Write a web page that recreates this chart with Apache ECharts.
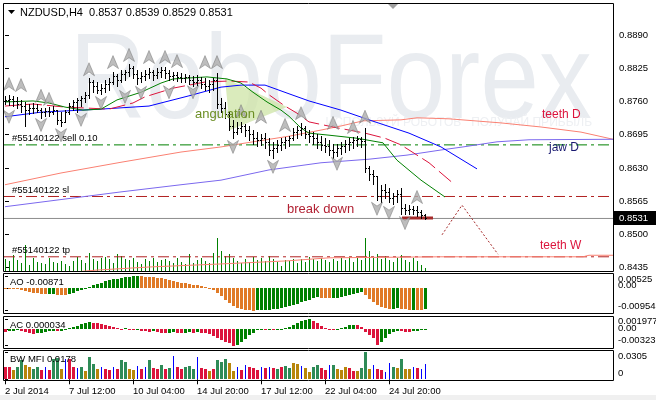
<!DOCTYPE html>
<html><head><meta charset="utf-8">
<script src="https://cdn.jsdelivr.net/npm/echarts@6/dist/echarts.min.js"></script>
<style>html,body{margin:0;padding:0;background:#fff}#c{width:656px;height:400px}</style>
</head><body><div id="c"></div>
<script>
// ---------- DATA ----------
const openP = [0.8760,0.8763,0.8765,0.8761,0.8755,0.8751,0.8743,0.8747,0.8747,0.8743,
0.8739,0.8741,0.8739,0.8743,0.8724,0.8720,0.8739,0.8751,0.8759,0.8763,
0.8767,0.8773,0.8798,0.8790,0.8782,0.8786,0.8794,0.8798,0.8810,0.8802,
0.8814,0.8818,0.8825,0.8814,0.8806,0.8810,0.8814,0.8818,0.8812,0.8818,
0.8822,0.8816,0.8810,0.8812,0.8808,0.8806,0.8808,0.8802,0.8798,0.8802,
0.8794,0.8790,0.8794,0.8802,0.8755,0.8747,0.8735,0.8712,0.8700,0.8708,
0.8712,0.8704,0.8696,0.8688,0.8685,0.8688,0.8681,0.8665,0.8669,0.8675,
0.8681,0.8685,0.8688,0.8700,0.8704,0.8708,0.8696,0.8692,0.8688,0.8681,
0.8675,0.8673,0.8665,0.8661,0.8669,0.8673,0.8677,0.8681,0.8685,0.8687,
0.8683,0.8630,0.8618,0.8614,0.8575,0.8587,0.8583,0.8571,0.8575,0.8579,
0.8551,0.8548,0.8550,0.8548,0.8544,0.8537];
const highP = [0.8771,0.8773,0.8771,0.8769,0.8763,0.8759,0.8755,0.8757,0.8755,0.8747,
0.8747,0.8749,0.8751,0.8743,0.8739,0.8743,0.8757,0.8763,0.8767,0.8771,
0.8778,0.8806,0.8802,0.8798,0.8794,0.8802,0.8806,0.8818,0.8814,0.8822,
0.8822,0.8833,0.8829,0.8822,0.8818,0.8822,0.8825,0.8822,0.8825,0.8827,
0.8827,0.8822,0.8818,0.8818,0.8816,0.8814,0.8812,0.8810,0.8812,0.8808,
0.8806,0.8802,0.8806,0.8816,0.8767,0.8759,0.8739,0.8724,0.8720,0.8720,
0.8716,0.8712,0.8704,0.8700,0.8696,0.8698,0.8688,0.8681,0.8685,0.8688,
0.8690,0.8692,0.8708,0.8712,0.8718,0.8712,0.8704,0.8700,0.8696,0.8692,
0.8688,0.8685,0.8677,0.8677,0.8681,0.8685,0.8688,0.8690,0.8692,0.8690,
0.8708,0.8634,0.8626,0.8614,0.8597,0.8598,0.8591,0.8581,0.8587,0.8591,
0.8559,0.8557,0.8555,0.8555,0.8548,0.8539];
const lowP = [0.8755,0.8753,0.8751,0.8747,0.8739,0.8712,0.8735,0.8737,0.8739,0.8728,
0.8732,0.8732,0.8735,0.8716,0.8712,0.8720,0.8735,0.8743,0.8739,0.8751,
0.8759,0.8767,0.8778,0.8777,0.8775,0.8778,0.8782,0.8794,0.8790,0.8798,
0.8802,0.8810,0.8806,0.8794,0.8798,0.8802,0.8806,0.8802,0.8806,0.8808,
0.8806,0.8802,0.8802,0.8800,0.8798,0.8798,0.8794,0.8790,0.8792,0.8786,
0.8782,0.8778,0.8782,0.8747,0.8739,0.8728,0.8704,0.8688,0.8696,0.8700,
0.8692,0.8685,0.8677,0.8673,0.8675,0.8669,0.8655,0.8649,0.8661,0.8665,
0.8669,0.8673,0.8685,0.8688,0.8694,0.8688,0.8681,0.8677,0.8669,0.8665,
0.8661,0.8655,0.8649,0.8653,0.8657,0.8661,0.8665,0.8669,0.8673,0.8671,
0.8622,0.8606,0.8598,0.8567,0.8563,0.8571,0.8563,0.8559,0.8563,0.8540,
0.8540,0.8540,0.8540,0.8536,0.8532,0.8529];
const closeP = [0.8763,0.8765,0.8761,0.8755,0.8751,0.8743,0.8747,0.8747,0.8743,0.8739,
0.8741,0.8739,0.8743,0.8724,0.8720,0.8739,0.8751,0.8759,0.8763,0.8767,
0.8773,0.8798,0.8790,0.8782,0.8786,0.8794,0.8798,0.8810,0.8802,0.8814,
0.8818,0.8825,0.8814,0.8806,0.8810,0.8814,0.8818,0.8812,0.8818,0.8822,
0.8816,0.8810,0.8812,0.8808,0.8806,0.8808,0.8802,0.8798,0.8802,0.8794,
0.8790,0.8794,0.8802,0.8755,0.8747,0.8735,0.8712,0.8700,0.8708,0.8712,
0.8704,0.8696,0.8688,0.8685,0.8688,0.8681,0.8665,0.8669,0.8675,0.8681,
0.8685,0.8688,0.8700,0.8704,0.8708,0.8696,0.8692,0.8688,0.8681,0.8675,
0.8673,0.8665,0.8661,0.8669,0.8673,0.8677,0.8681,0.8685,0.8687,0.8683,
0.8630,0.8618,0.8614,0.8575,0.8587,0.8583,0.8571,0.8575,0.8579,0.8551,
0.8548,0.8550,0.8548,0.8544,0.8537,0.8531];
const volumes = [1200,1000,1600,1100,800,2600,600,1300,900,800, 700,1300,900,800,1000,700,500,1000,1400,1100,
800,1800,1200,1000,1300,1400,1200,800,1700,1500, 1200,1100,1300,900,700,1200,1000,1300,900,1100,
1200,1000,800,1300,900,700,1700,800,1100,1300, 1000,800,1800,3300,2000,1500,1700,1300,1000,800,
1200,900,1400,1100,1300,1000,1500,1200,900,500, 1100,1000,1200,800,1200,900,1400,1200,1000,1300,
1100,900,1200,1000,1300,1100,1400,900,1300,1100, 3300,2000,1300,1700,1200,1500,1100,900,1300,1600,
1100,900,1300,1000,600,300];
const jawH4 = [[0,0.8730],[9,0.8739],[24,0.8745],[36,0.8751],[46,0.8771],[54,0.8788],[59,0.8792],[65,0.8792],[71,0.8775],[76,0.8761],[84,0.8743],[91,0.8724],[101,0.8698],[109,0.8671],[118,0.8628]];
const teethH4 = [[0,0.8751],[7,0.8755],[15,0.8749],[26,0.8745],[32,0.8757],[35,0.8769],[42,0.8786],[50,0.8798],[56,0.8800],[61,0.8798],[64,0.8786],[66,0.8773],[70,0.8751],[73,0.8737],[76,0.8720],[82,0.8710],[90,0.8698],[95,0.8688],[99,0.8675],[103,0.8655],[106,0.8640],[112,0.8600]];
const lipsH4 = [[0,0.8759],[7,0.8761],[11,0.8757],[15,0.8749],[19.5,0.8743],[24,0.8745],[28,0.8763],[34,0.8778],[39,0.8796],[42,0.8804],[50.5,0.8808],[55.5,0.8804],[59,0.8796],[62,0.8778],[65.5,0.8759],[69,0.8743],[71,0.8731],[74,0.8708],[76,0.8698],[81,0.8694],[88,0.8688],[94.5,0.8679],[98,0.8645],[104,0.8606],[110,0.8573]];
const teethD = [[0,0.8597],[14,0.8620],[29,0.8641],[44,0.8661],[54,0.8671],[62,0.8681],[71,0.8692],[79,0.8704],[84,0.8712],[89.5,0.8722],[99,0.8724],[103,0.8728],[111,0.8726],[124,0.8718],[134,0.8710],[144,0.8700],[152,0.8686]];
const jawD = [[0,0.8554],[14,0.8568],[29,0.8583],[44,0.8597],[54,0.8606],[66,0.8626],[79,0.8640],[91,0.8647],[100.5,0.8655],[109,0.8665],[114.5,0.8671],[123,0.8681],[131,0.8685],[152,0.8686]];
const teethW = [[0,0.8415],[23,0.8430],[36,0.8436],[54,0.8442],[70.5,0.8448],[81,0.8454],[109,0.8456],[144.5,0.8456],[146,0.8459],[152,0.8459]];
const fractalUp = [[1,0.8794],[4,0.8792],[9,0.8771],[11,0.8765],[21,0.8823],[27,0.8837],[31,0.8851],[36,0.8847],[40,0.8847],[43,0.8839],[50,0.8837],[53,0.8837],[59,0.8741],[64,0.8730],[70,0.8714],[74,0.8737],[82,0.8718],[87,0.8710],[90,0.8730],[103,0.8573]];
const fractalDown = [[1,0.8730],[9,0.8714],[14,0.8694],[19,0.8724],[24,0.8757],[30,0.8769],[34,0.8777],[41,0.8778],[47,0.8778],[57,0.8671],[67,0.8632],[83,0.8638],[93,0.8550],[96,0.8542],[100,0.8522]];
const projection = [[109.25,0.8499],[114.25,0.8557],[123.25,0.8461]];
const tradeSegment = [[99.25,0.8532],[107,0.8532]];
const angulation = [[55,0.8806],[70.5,0.8749],[56.25,0.8704]];
const orderLevels = [0.8675, 0.8574, 0.8456];
const orderLabels = ['#55140122 sell 0.10', '#55140122 sl', '#55140122 tp'];
const bidLevel = 0.8531;
const aoValues = [-0.0001,-0.0002,-0.0003,-0.0004,-0.0007,-0.0011,-0.0015,-0.0018,-0.0021,-0.0024,
-0.0025,-0.0024,-0.0023,-0.0027,-0.0028,-0.0029,-0.0024,-0.0018,-0.0013,-0.0007,
-0.0001,0.0005,0.0012,0.0018,0.0023,0.0029,0.0034,0.0038,0.0041,0.0045,
0.0048,0.0050,0.0051,0.00525,0.0051,0.0050,0.0049,0.0048,0.0046,0.0043,
0.0040,0.0036,0.0032,0.0027,0.0024,0.0022,0.0019,0.0016,0.0013,0.0010,
0.0006,0.0002,-0.0007,-0.0018,-0.0032,-0.0048,-0.0062,-0.0074,-0.0083,-0.0090,
-0.0093,-0.0094,-0.00954,-0.0094,-0.0093,-0.0092,-0.0091,-0.0090,-0.0088,-0.0085,
-0.0081,-0.0077,-0.0072,-0.0066,-0.0060,-0.0054,-0.0048,-0.0043,-0.0039,-0.0040,
-0.0042,-0.0043,-0.0041,-0.0040,-0.0037,-0.0033,-0.0029,-0.0024,-0.0019,-0.0017,
-0.0030,-0.0044,-0.0058,-0.0071,-0.0080,-0.0085,-0.0088,-0.0087,-0.0086,-0.0088,
-0.0090,-0.0092,-0.0091,-0.0092,-0.0094,-0.00871];
const acValues = [-0.0005,-0.0004,-0.0003,-0.0002,-0.0004,-0.0006,-0.0008,-0.0009,-0.0008,-0.0007,
-0.0005,-0.0004,-0.0003,-0.0004,-0.0003,-0.0002,0.0002,0.0004,0.0007,0.0010,
0.0012,0.0014,0.0013,0.0012,0.0010,0.0008,0.0006,0.0004,0.0002,0.0001,
0.0002,0.0001,-0.0001,0.0000,-0.0003,-0.0004,-0.0005,-0.0004,-0.0006,-0.0007,
-0.0008,-0.0007,-0.0006,-0.0007,-0.0008,-0.0007,-0.0006,-0.0007,-0.0006,-0.0007,
-0.0008,-0.0009,-0.0013,-0.0018,-0.0022,-0.0025,-0.0028,-0.00323,-0.0031,-0.0025,
-0.0019,-0.0012,-0.0007,-0.0002,-0.0001,-0.0002,-0.0001,-0.0002,-0.0001,0.0001,
0.0003,0.0005,0.0009,0.0013,0.0016,0.0018,0.001977,0.0016,0.0012,0.0006,
0.0002,0.0000,-0.0001,0.0001,0.0003,0.0005,0.0008,0.0009,0.0008,0.0004,
-0.0006,-0.0011,-0.0018,-0.0031,-0.0026,-0.0018,-0.0010,-0.0005,-0.0003,-0.0004,
-0.0005,-0.0006,-0.0004,-0.0003,-0.0002,0.000034];
const mfiValues = [0.0137,0.0137,0.0103,0.0137,0.0217,0.0160,0.0137,0.0114,0.0137,0.0103,
0.0137,0.0103,0.0228,0.0239,0.0114,0.0228,0.0228,0.0137,0.0125,0.0137,
0.0091,0.0251,0.0171,0.0114,0.0137,0.0114,0.0103,0.0137,0.0114,0.0217,
0.0194,0.0114,0.0103,0.0148,0.0114,0.0137,0.0217,0.0125,0.0114,0.0160,
0.0114,0.0125,0.0262,0.0137,0.0114,0.0137,0.0148,0.0114,0.0251,0.0125,
0.0114,0.0091,0.0114,0.0217,0.0194,0.0228,0.0182,0.0091,0.0137,0.0103,
0.0160,0.0137,0.0125,0.0103,0.0137,0.0125,0.0137,0.0125,0.0114,0.0137,
0.0148,0.0125,0.0182,0.0171,0.0148,0.0125,0.0080,0.0137,0.0160,0.0125,
0.0103,0.0160,0.0160,0.0114,0.0103,0.0137,0.0125,0.0091,0.0091,0.0125,
0.0305,0.0114,0.0160,0.0114,0.0103,0.0080,0.0182,0.0137,0.0125,0.0228,
0.0114,0.0114,0.0137,0.0125,0.0114,0.0178];
const mfiKinds = ['r','r','y','g','g','y','y','g','g','r', 'b','r','g','g','y','b','r','r','b','g',
'y','g','g','y','b','r','r','b','r','g', 'g','y','y','b','r','b','g','r','r','g',
'r','g','b','r','r','g','g','g','b','r', 'r','y','r','g','g','g','y','y','b','r',
'b','r','r','r','b','r','b','r','g','r', 'g','g','y','y','b','y','y','g','g','r',
'r','b','g','y','y','y','r','r','y','g', 'g','y','b','r','r','b','b','g','y','g',
'y','y','b','r','b','b'];
const priceTicks = [0.8890,0.8825,0.8760,0.8695,0.8630,0.8565,0.8500,0.8435];
const aoTicks = [0.00525,0,-0.00954], aoTickText = ['0.00525','0.00','-0.00954'];
const acTicks = [0.001977,0,-0.00323], acTickText = ['0.001977','0.00','-0.00323'];
const mfiTicks = [0.0305,0], mfiTickText = ['0.0305','0'];
const timeTickIdx = [0,16,32,48,64,80,96];
const timeTickLabels = ['2 Jul 2014','7 Jul 12:00','10 Jul 04:00','14 Jul 20:00','17 Jul 12:00','22 Jul 04:00','24 Jul 20:00'];

// ---------- STYLE / LAYOUT ----------
const FONT = '"Liberation Sans", Arial, sans-serif';
const GREEN = '#008000', ORANGE = '#e07a26', RED = '#dc143c';
const mfiColorMap = {g:'#2e8b57', r:'#dc143c', y:'#b8860b', b:'#0000ff'};
const XMIN = -0.25, XMAX = 152;
const grids = [
  {left:4, right:43, top:4, height:267},
  {left:4, right:43, top:273, height:40},
  {left:4, right:43, top:316, height:32},
  {left:4, right:43, top:350, height:30}
];
const idx = n => Array.from({length:n}, (_, i) => i);

function histRender(values, colorFn, widthFn) {
  return function (params, api) {
    const i = api.value(0), v = api.value(1);
    const p = api.coord([i, v]), z = api.coord([i, 0]);
    const px = Math.round(p[0]);
    const w = widthFn(params.dataIndex);
    let y1 = Math.round(Math.min(p[1], z[1])), y2 = Math.round(Math.max(p[1], z[1]));
    if (y2 - y1 < 1) y2 = y1 + 1;
    return {type:'rect', shape:{x: w > 1 ? px - 1 : px, y:y1, width:w, height:y2 - y1},
      style:{fill: colorFn(params.dataIndex)}};
  };
}
function hLine(name, level, color, type, z) {
  return {type:'line', name, xAxisIndex:0, yAxisIndex:0, data:[[XMIN, level],[XMAX, level]],
    showSymbol:false, symbol:'none', silent:true, z, lineStyle:{color, width:1, type}};
}
const DASHDOT = [11,4,3,4];

const chart = echarts.init(document.getElementById('c'), null, {renderer:'canvas'});
const N = openP.length;

const baseGraphic = [
  {id:'wm', type:'text', x:62, y:85, z:-10, scaleX:0.88, originX:62, originY:85, silent:true,
    style:{text:'RoboForex', font:'120px ' + FONT, fill:'#e9ecf0', verticalAlign:'middle', align:'left'}},
  {id:'wm2', type:'text', x:592, y:123, z:-10, silent:true,
    style:{text:'ИСПОЛЬЗУЙ РОБОТОВ   ПОЛУЧАЙ ПРИБЫЛЬ', font:'12px ' + FONT, fill:'#eef0f3', verticalAlign:'middle', align:'right'}},
  {id:'bot', type:'rect', shape:{x:0, y:395, width:656, height:5}, style:{fill:'#f0f0f0'}, z:20, silent:true},
  {id:'f0', type:'rect', shape:{x:3.5, y:3.5, width:610, height:268}, style:{fill:null, stroke:'#000', lineWidth:1}, z:20, silent:true},
  {id:'f1', type:'rect', shape:{x:3.5, y:273.5, width:610, height:40}, style:{fill:null, stroke:'#000', lineWidth:1}, z:20, silent:true},
  {id:'f2', type:'rect', shape:{x:3.5, y:316.5, width:610, height:32}, style:{fill:null, stroke:'#000', lineWidth:1}, z:20, silent:true},
  {id:'f3', type:'rect', shape:{x:3.5, y:350.5, width:610, height:30}, style:{fill:null, stroke:'#000', lineWidth:1}, z:20, silent:true},
  {id:'tri', type:'polygon', shape:{points:[[8,10],[15,10],[11.5,14]]}, style:{fill:'#000'}, z:21, silent:true},
  {id:'shift', type:'polygon', shape:{points:[[388,4],[398,4],[393,9]]}, style:{fill:'#a0a0a0'}, z:21, silent:true},
  {id:'hdr', type:'text', x:20, y:13, z:21, style:{text:'NZDUSD,H4  0.8537 0.8539 0.8529 0.8531', font:'11px ' + FONT, fill:'#000', verticalAlign:'middle'}},
  {id:'t1', type:'text', x:195, y:114, z:21, style:{text:'angulation', font:'13px ' + FONT, fill:'#6b8e23', verticalAlign:'middle'}},
  {id:'t2', type:'text', x:542, y:115, z:21, style:{text:'teeth D', font:'12px ' + FONT, fill:RED, verticalAlign:'middle'}},
  {id:'t3', type:'text', x:549, y:148, z:21, style:{text:'jaw D', font:'12px ' + FONT, fill:'#191970', verticalAlign:'middle'}},
  {id:'t4', type:'text', x:287, y:209, z:21, style:{text:'break down', font:'13px ' + FONT, fill:'#b22234', verticalAlign:'middle'}},
  {id:'t5', type:'text', x:540, y:246, z:21, style:{text:'teeth W', font:'12px ' + FONT, fill:RED, verticalAlign:'middle'}},
  {id:'t6', type:'text', x:10, y:282, z:21, style:{text:'AO -0.00871', font:'9.5px ' + FONT, fill:'#000', verticalAlign:'middle'}},
  {id:'t7', type:'text', x:10, y:325, z:21, style:{text:'AC 0.000034', font:'9.5px ' + FONT, fill:'#000', verticalAlign:'middle'}},
  {id:'t8', type:'text', x:10, y:359, z:21, style:{text:'BW MFI 0.0178', font:'9.5px ' + FONT, fill:'#000', verticalAlign:'middle'}}
];

const option = {
  animation:false,
  textStyle:{fontFamily:FONT},
  grid: grids,
  xAxis: grids.map((g, k) => ({
    type:'value', gridIndex:k, min:XMIN, max:XMAX, show: k === 3,
    axisLine:{show:false}, splitLine:{show:false},
    axisTick:{show:k===3, length:5, lineStyle:{color:'#000'}, customValues: timeTickIdx},
    axisLabel:{show:k===3, customValues: timeTickIdx, align:'left', margin:6, fontSize:9.5, color:'#000',
      formatter: v => timeTickLabels[timeTickIdx.indexOf(Math.round(v))] || ''}
  })),
  yAxis: [
    {type:'value', gridIndex:0, position:'right', min:0.84282, max:0.89507,
      axisLine:{show:false}, splitLine:{show:false},
      axisTick:{show:true, length:4, lineStyle:{color:'#000'}, customValues:priceTicks},
      axisLabel:{customValues:priceTicks, fontSize:9.5, color:'#000', margin:6, formatter: v => v.toFixed(4)}},
    {type:'value', gridIndex:0, min:0, max:26700, show:false},
    {type:'value', gridIndex:1, position:'right', min:-0.01052, max:0.00652,
      axisLine:{show:false}, splitLine:{show:false}, axisLabel:{show:false},
      axisTick:{show:true, length:3, lineStyle:{color:'#000'}, customValues:aoTicks}},
    {type:'value', gridIndex:2, position:'right', min:-0.0037, max:0.00263,
      axisLine:{show:false}, splitLine:{show:false}, axisLabel:{show:false},
      axisTick:{show:true, length:3, lineStyle:{color:'#000'}, customValues:acTicks}},
    {type:'value', gridIndex:3, position:'right', min:-0.0008, max:0.0333,
      axisLine:{show:false}, splitLine:{show:false}, axisLabel:{show:false},
      axisTick:{show:true, length:3, lineStyle:{color:'#000'}, customValues:mfiTicks}}
  ],
  graphic: baseGraphic,
  series: [
    {type:'custom', name:'angulation', coordinateSystem:'cartesian2d', xAxisIndex:0, yAxisIndex:0, z:1, silent:true,
      data:[angulation[0]],
      renderItem:(params, api) => ({type:'polygon', shape:{points: angulation.map(p => api.coord(p))},
        style:{fill:'rgba(205,228,165,0.75)'}})},
    {type:'custom', name:'volume', coordinateSystem:'cartesian2d', xAxisIndex:0, yAxisIndex:1, z:2, silent:true,
      data: idx(N).map(i => [i, volumes[i]]),
      renderItem: histRender(volumes, () => GREEN, () => 1)},
    hLine('sell', orderLevels[0], GREEN, DASHDOT, 3),
    hLine('sl', orderLevels[1], '#b22222', DASHDOT, 3),
    hLine('tp', orderLevels[2], '#b22222', DASHDOT, 3),
    hLine('bid', bidLevel, '#8c8c8c', 'solid', 3),
    {type:'line', name:'teeth D', xAxisIndex:0, yAxisIndex:0, data:teethD, showSymbol:false, symbol:'none', silent:true, z:3,
      lineStyle:{color:'#fa8072', width:1}},
    {type:'line', name:'jaw D', xAxisIndex:0, yAxisIndex:0, data:jawD, showSymbol:false, symbol:'none', silent:true, z:3,
      lineStyle:{color:'#7b68ee', width:1}},
    {type:'line', name:'teeth W', xAxisIndex:0, yAxisIndex:0, data:teethW, showSymbol:false, symbol:'none', silent:true, z:3,
      lineStyle:{color:'#fa8072', width:1}},
    {type:'line', name:'jaw', xAxisIndex:0, yAxisIndex:0, data:jawH4, showSymbol:false, symbol:'none', silent:true, z:4,
      lineStyle:{color:'#0000ff', width:1}},
    {type:'line', name:'teeth', xAxisIndex:0, yAxisIndex:0, data:teethH4, showSymbol:false, symbol:'none', silent:true, z:4,
      lineStyle:{color:RED, width:1, type:[16,5]}},
    {type:'line', name:'lips', xAxisIndex:0, yAxisIndex:0, data:lipsH4, showSymbol:false, symbol:'none', silent:true, z:4,
      lineStyle:{color:GREEN, width:1}},
    {type:'custom', name:'NZDUSD', coordinateSystem:'cartesian2d', xAxisIndex:0, yAxisIndex:0, z:6, silent:true,
      data: idx(N).map(i => [i, openP[i], highP[i], lowP[i], closeP[i]]),
      renderItem:(params, api) => {
        const i = api.value(0);
        const o = api.coord([i, api.value(1)]), h = api.coord([i, api.value(2)]);
        const l = api.coord([i, api.value(3)]), c = api.coord([i, api.value(4)]);
        const px = Math.round(o[0]);
        const hy = Math.round(h[1]), ly = Math.round(l[1]);
        return {type:'group', children:[
          {type:'rect', shape:{x:px, y:hy, width:1, height:Math.max(1, ly - hy + 1)}, style:{fill:'#000'}},
          {type:'rect', shape:{x:px - 1, y:Math.round(o[1]), width:1, height:1}, style:{fill:'#000'}},
          {type:'rect', shape:{x:px + 1, y:Math.round(c[1]), width:1, height:1}, style:{fill:'#000'}}
        ]};
      }},
    {type:'scatter', name:'fractal up', xAxisIndex:0, yAxisIndex:0, data:fractalUp, z:7, silent:true,
      symbol:'path://M5,0 L10,12 L5,8.5 L0,12 Z', symbolSize:[11,13],
      itemStyle:{color:'#adadad', borderColor:'#6f6f6f', borderWidth:0.6}},
    {type:'scatter', name:'fractal down', xAxisIndex:0, yAxisIndex:0, data:fractalDown, z:7, silent:true,
      symbol:'path://M0,0 L5,3.5 L10,0 L5,12 Z', symbolSize:[11,13],
      itemStyle:{color:'#adadad', borderColor:'#6f6f6f', borderWidth:0.6}},
    {type:'line', name:'projection', xAxisIndex:0, yAxisIndex:0, data:projection, showSymbol:false, symbol:'none', silent:true, z:5,
      lineStyle:{color:'#a52a2a', width:1, type:[2,2]}},
    {type:'line', name:'trade', xAxisIndex:0, yAxisIndex:0, data:tradeSegment, showSymbol:false, symbol:'none', silent:true, z:5,
      lineStyle:{color:'#a52a2a', width:3}},
    {type:'custom', name:'AO', coordinateSystem:'cartesian2d', xAxisIndex:1, yAxisIndex:2, silent:true,
      data: idx(N).map(i => [i, aoValues[i]]),
      renderItem: histRender(aoValues, k => (k > 0 && aoValues[k] > aoValues[k-1]) ? GREEN : ORANGE, () => 3)},
    {type:'custom', name:'AC', coordinateSystem:'cartesian2d', xAxisIndex:2, yAxisIndex:3, silent:true,
      data: idx(N).map(i => [i, acValues[i]]),
      renderItem: histRender(acValues, k => (k > 0 && acValues[k] > acValues[k-1]) ? GREEN : RED, () => 3)},
    {type:'custom', name:'BW MFI', coordinateSystem:'cartesian2d', xAxisIndex:3, yAxisIndex:4, silent:true,
      data: idx(N).map(i => [i, mfiValues[i]]),
      renderItem: histRender(mfiValues, k => mfiColorMap[mfiKinds[k]], k => mfiKinds[k] === 'b' ? 1 : 3)}
  ]
};
chart.setOption(option);

// labels placed from the axes' own scales
const extra = [];
const yPix = (xi, yi, v) => chart.convertToPixel({xAxisIndex:xi, yAxisIndex:yi}, [0, v])[1];
orderLevels.forEach((lv, k) => {
  extra.push({id:'ol' + k, type:'text', x:12, y:yPix(0, 0, lv) - 6.5, z:21,
    style:{text:orderLabels[k], font:'9.5px ' + FONT, fill:'#000', verticalAlign:'middle'}});
});
const by = Math.round(yPix(0, 0, bidLevel));
extra.push({id:'bidbox', type:'rect', shape:{x:614, y:by - 7, width:42, height:14}, style:{fill:'#000'}, z:21});
extra.push({id:'bidtxt', type:'text', x:619, y:by, z:22,
  style:{text:bidLevel.toFixed(4), font:'9.5px ' + FONT, fill:'#fff', verticalAlign:'middle'}});
function subLabels(xi, yi, ticks, texts, shifts, pre) {
  ticks.forEach((t, k) => {
    extra.push({id:pre + k, type:'text', x:618, y:yPix(xi, yi, t) + shifts[k], z:21,
      style:{text:texts[k], font:'9.5px ' + FONT, fill:'#000', verticalAlign:'middle'}});
  });
}
subLabels(1, 2, aoTicks, aoTickText, [3,-3,-4], 'ao');
subLabels(2, 3, acTicks, acTickText, [2,-1,-5], 'ac');
subLabels(3, 4, mfiTicks, mfiTickText, [4,-6], 'mf');
chart.setOption({graphic: baseGraphic.concat(extra)});
</script>
</body></html>
